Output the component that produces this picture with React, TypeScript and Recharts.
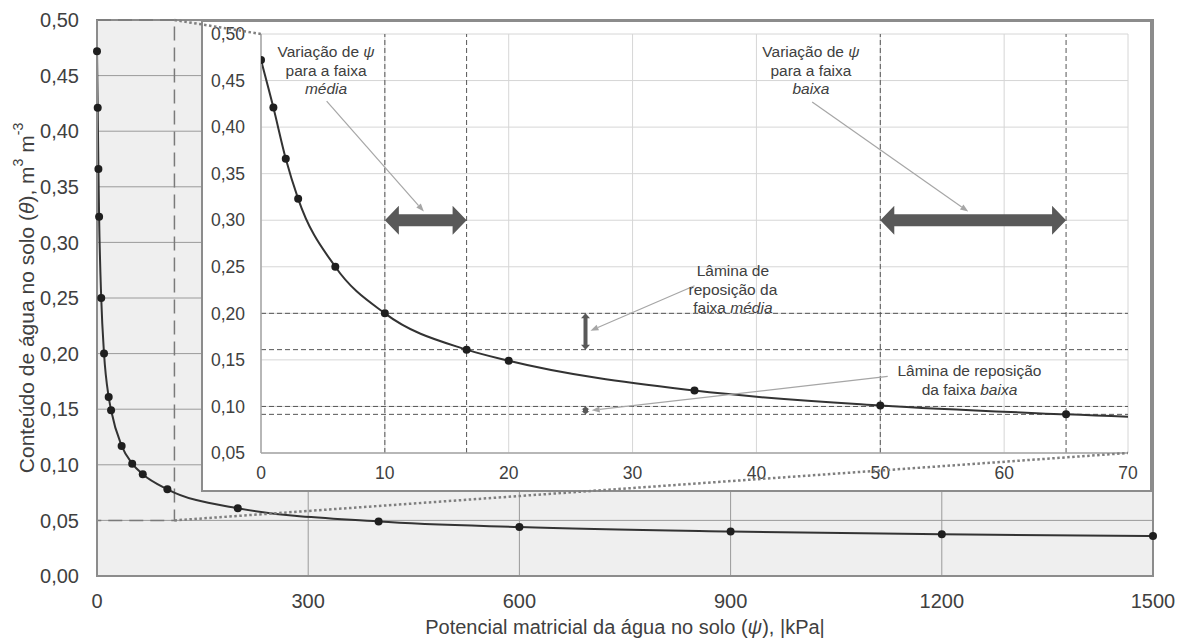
import React from 'react'
import { LineChart, Line, XAxis, YAxis, CartesianGrid, ReferenceLine, ReferenceArea, ReferenceDot } from 'recharts'

// retention curve points, |kPa| vs m3 m-3
const psi = [0, 1, 2, 3, 6, 10, 16.6, 20, 35, 50, 65, 100, 200, 400, 600, 900, 1200, 1500]
const theta = [0.472, 0.421, 0.366, 0.323, 0.25, 0.2, 0.161, 0.149, 0.117, 0.101, 0.0915, 0.078, 0.061, 0.049, 0.044, 0.04, 0.0375, 0.036]

const mainXTicks = [0, 300, 600, 900, 1200, 1500]
const mainYTicks = [0, 0.05, 0.1, 0.15, 0.2, 0.25, 0.3, 0.35, 0.4, 0.45, 0.5]
const insetXTicks = [0, 10, 20, 30, 40, 50, 60, 70]
const insetYTicks = [0.05, 0.1, 0.15, 0.2, 0.25, 0.3, 0.35, 0.4, 0.45, 0.5]

const zoomPsi = 110
const psiMedia = [10, 16.6]
const psiBaixa = [50, 65]
const thetaMedia = [0.2, 0.161]
const thetaBaixa = [0.1, 0.0915]
const arrowTheta = 0.3
const laminaPsi = 26.2

const notes = [
  { psi: 5.25, theta: 0.481, lines: ['Variação de *ψ*', 'para a faixa', '*média*'] },
  { psi: 44.4, theta: 0.481, lines: ['Variação de *ψ*', 'para a faixa', '*baixa*'] },
  { psi: 38.1, theta: 0.2457, lines: ['Lâmina de', 'reposição da', 'faixa *média*'] },
  { psi: 57.2, theta: 0.1384, lines: ['Lâmina de reposição', 'da faixa *baixa*'] },
]
const leaders = [
  [{ x: 5.3, y: 0.428 }, { x: 13.15, y: 0.3093 }],
  [{ x: 44.5, y: 0.427 }, { x: 57.1, y: 0.3093 }],
  [{ x: 35, y: 0.2296 }, { x: 26.6, y: 0.1813 }],
  [{ x: 50.6, y: 0.1322 }, { x: 26.7, y: 0.0958 }],
]

const data = psi.map((p, i) => ({ psi: p, theta: theta[i] }))
const insetData = data.filter(d => d.psi <= 100)

const FONT = '"Liberation Sans", Arial, sans-serif'
const TXT = '#404040'
const fmt = (v: number) => v.toFixed(2).replace('.', ',')

// layout
const W = 1177, H = 644
const M = { left: 97, top: 20, right: 24, bottom: 68 }
const BOX = { left: 201, top: 20, w: 951, h: 472, border: 2 }
const IM = { left: 58, top: 12, right: 22, bottom: 37 }
const IW = BOX.w - 2 * BOX.border, IH = BOX.h - 2 * BOX.border

const mainX = (v: number) => M.left + (v / 1500) * (W - M.left - M.right)
const mainY = (v: number) => M.top + ((0.5 - v) / 0.5) * (H - M.top - M.bottom)
const insetX = (v: number) => BOX.left + BOX.border + IM.left + (v / 70) * (IW - IM.left - IM.right)
const insetY = (v: number) => BOX.top + BOX.border + IM.top + ((0.5 - v) / 0.45) * (IH - IM.top - IM.bottom)

const richLine = (s: string) =>
  s.split('*').map((part, i) => (
    <tspan key={i} fontStyle={i % 2 ? 'italic' : 'normal'}>{part}</tspan>
  ))

const HArrow = (p: any) => {
  const { x1, y1, x2 } = p
  const bh = 6, hh = 14.5, hl = 14
  const pts = [
    [x1, y1], [x1 + hl, y1 - hh], [x1 + hl, y1 - bh], [x2 - hl, y1 - bh], [x2 - hl, y1 - hh],
    [x2, y1], [x2 - hl, y1 + hh], [x2 - hl, y1 + bh], [x1 + hl, y1 + bh], [x1 + hl, y1 + hh],
  ]
  return <polygon points={pts.map(q => q.join(',')).join(' ')} fill="#595959" />
}

const VArrow = (bw: number, hw: number, hl: number) => (p: any) => {
  const { x1, y1, y2 } = p
  const top = Math.min(y1, y2), bot = Math.max(y1, y2)
  const pts = [
    [x1, top], [x1 + hw, top + hl], [x1 + bw, top + hl], [x1 + bw, bot - hl], [x1 + hw, bot - hl],
    [x1, bot], [x1 - hw, bot - hl], [x1 - bw, bot - hl], [x1 - bw, top + hl], [x1 - hw, top + hl],
  ]
  return <polygon points={pts.map(q => q.join(',')).join(' ')} fill="#595959" />
}

const Leader = (p: any) => {
  const { x1, y1, x2, y2 } = p
  const a = Math.atan2(y2 - y1, x2 - x1)
  const L = 8, w = 3
  const bx = x2 - L * Math.cos(a), by = y2 - L * Math.sin(a)
  const pts = [
    [x2, y2],
    [bx + w * Math.sin(a), by - w * Math.cos(a)],
    [bx - w * Math.sin(a), by + w * Math.cos(a)],
  ]
  return (
    <g>
      <line x1={x1} y1={y1} x2={bx} y2={by} stroke="#a6a6a6" strokeWidth={1.2} />
      <polygon points={pts.map(q => q.join(',')).join(' ')} fill="#a6a6a6" />
    </g>
  )
}

const noteShape = (lines: string[]) => (p: any) => (
  <text x={p.cx} y={p.cy} textAnchor="middle" fontSize={15.5} fill={TXT} fontFamily={FONT}>
    {lines.map((l, i) => (
      <tspan key={i} x={p.cx} dy={i === 0 ? 5.5 : 18.5}>{richLine(l)}</tspan>
    ))}
  </text>
)

const YLabel = () => (
  <text transform={`translate(26,${(M.top + H - M.bottom) / 2}) rotate(-90)`} textAnchor="middle"
    fontSize={21} fill={TXT} fontFamily={FONT} dominantBaseline="central">
    Conteúdo de água no solo (<tspan fontStyle="italic">θ</tspan>), m<tspan dy={-8} fontSize={14}>3</tspan>
    <tspan dy={8}> m</tspan><tspan dy={-8} fontSize={14}>-3</tspan>
  </text>
)

const XLabel = () => (
  <text x={(M.left + W - M.right) / 2} y={627} textAnchor="middle" fontSize={20} fill={TXT}
    fontFamily={FONT} dominantBaseline="central">
    Potencial matricial da água no solo (<tspan fontStyle="italic">ψ</tspan>), |kPa|
  </text>
)

const Inset = () => (
  <div style={{
    position: 'absolute', left: BOX.left, top: BOX.top, width: BOX.w, height: BOX.h,
    boxSizing: 'border-box', border: `${BOX.border}px solid #8c8c8c`, background: '#fff',
  }}>
    <LineChart width={IW} height={IH} data={insetData} margin={{ top: IM.top, right: IM.right, bottom: 0, left: 0 }}
      style={{ fontFamily: FONT }}>
      <CartesianGrid stroke="#d6d6d6" strokeWidth={1} />
      <XAxis dataKey="psi" type="number" domain={[0, 70]} ticks={insetXTicks} allowDataOverflow
        height={IM.bottom} tickSize={0} tickMargin={14} axisLine={{ stroke: '#a6a6a6', strokeWidth: 1.5 }}
        tick={{ fontSize: 17.5, fill: TXT }} />
      <YAxis type="number" domain={[0.05, 0.5]} ticks={insetYTicks} allowDataOverflow width={IM.left}
        tickSize={0} tickMargin={16} tickFormatter={fmt} axisLine={{ stroke: '#a6a6a6', strokeWidth: 1.5 }}
        tick={{ fontSize: 17.5, fill: TXT }} />
      {[...psiMedia, ...psiBaixa].map(v => (
        <ReferenceLine key={'x' + v} x={v} stroke="#555" strokeWidth={1} strokeDasharray="5 3" />
      ))}
      {[...thetaMedia, ...thetaBaixa].map(v => (
        <ReferenceLine key={'y' + v} y={v} stroke="#555" strokeWidth={1} strokeDasharray="5 3" />
      ))}
      <Line type="monotone" dataKey="theta" stroke="#333" strokeWidth={2}
        dot={{ r: 4, fill: '#1f1f1f', stroke: '#1f1f1f', strokeWidth: 0 }} isAnimationActive={false} />
      <ReferenceLine segment={[{ x: psiMedia[0], y: arrowTheta }, { x: psiMedia[1], y: arrowTheta }]} shape={HArrow} />
      <ReferenceLine segment={[{ x: psiBaixa[0], y: arrowTheta }, { x: psiBaixa[1], y: arrowTheta }]} shape={HArrow} />
      <ReferenceLine segment={[{ x: laminaPsi, y: thetaMedia[0] }, { x: laminaPsi, y: thetaMedia[1] }]}
        shape={VArrow(2, 4.5, 5)} />
      <ReferenceLine segment={[{ x: laminaPsi, y: thetaBaixa[0] }, { x: laminaPsi, y: thetaBaixa[1] }]}
        shape={VArrow(2.5, 4, 3)} />
      {leaders.map((seg, i) => (
        <ReferenceLine key={'l' + i} segment={seg} shape={Leader} />
      ))}
      {notes.map((n, i) => (
        <ReferenceDot key={'n' + i} x={n.psi} y={n.theta} r={0} shape={noteShape(n.lines)} />
      ))}
    </LineChart>
  </div>
)

export default function App() {
  return (
    <div style={{ position: 'absolute', left: 0, top: 0, width: W, height: H, background: '#fff' }}>
      <LineChart width={W} height={H} data={data} margin={{ top: M.top, right: M.right, bottom: 0, left: 0 }}
        style={{ fontFamily: FONT }}>
        <CartesianGrid stroke="#9a9a9a" strokeWidth={1} fill="#efefef" />
        <XAxis dataKey="psi" type="number" domain={[0, 1500]} ticks={mainXTicks} height={M.bottom}
          tickSize={0} tickMargin={18} axisLine={{ stroke: '#8c8c8c', strokeWidth: 2 }}
          tick={{ fontSize: 20, fill: TXT }} label={{ content: XLabel }} />
        <YAxis type="number" domain={[0, 0.5]} ticks={mainYTicks} width={M.left} tickSize={0} tickMargin={18}
          tickFormatter={fmt} axisLine={{ stroke: '#8c8c8c', strokeWidth: 2 }}
          tick={{ fontSize: 20, fill: TXT }} label={{ content: YLabel }} />
        <ReferenceArea x1={0} x2={1500} y1={0} y2={0.5} fill="none" stroke="#8c8c8c" strokeWidth={2} />
        <ReferenceArea x1={0} x2={zoomPsi} y1={0.05} y2={0.5} fill="none" stroke="#7a7a7a"
          strokeWidth={1.5} strokeDasharray="14 7" />
        <Line type="monotone" dataKey="theta" stroke="#333" strokeWidth={2}
          dot={{ r: 4, fill: '#1f1f1f', stroke: '#1f1f1f', strokeWidth: 0 }} isAnimationActive={false} />
      </LineChart>
      <Inset />
      <svg width={W} height={H} style={{ position: 'absolute', left: 0, top: 0, pointerEvents: 'none' }}>
        <line x1={mainX(zoomPsi)} y1={mainY(0.5)} x2={insetX(0)} y2={insetY(0.5)}
          stroke="#7f7f7f" strokeWidth={2.5} strokeDasharray="2.5 2.5" />
        <line x1={mainX(zoomPsi)} y1={mainY(0.05)} x2={insetX(70)} y2={insetY(0.05)}
          stroke="#7f7f7f" strokeWidth={2.5} strokeDasharray="2.5 2.5" />
      </svg>
    </div>
  )
}
